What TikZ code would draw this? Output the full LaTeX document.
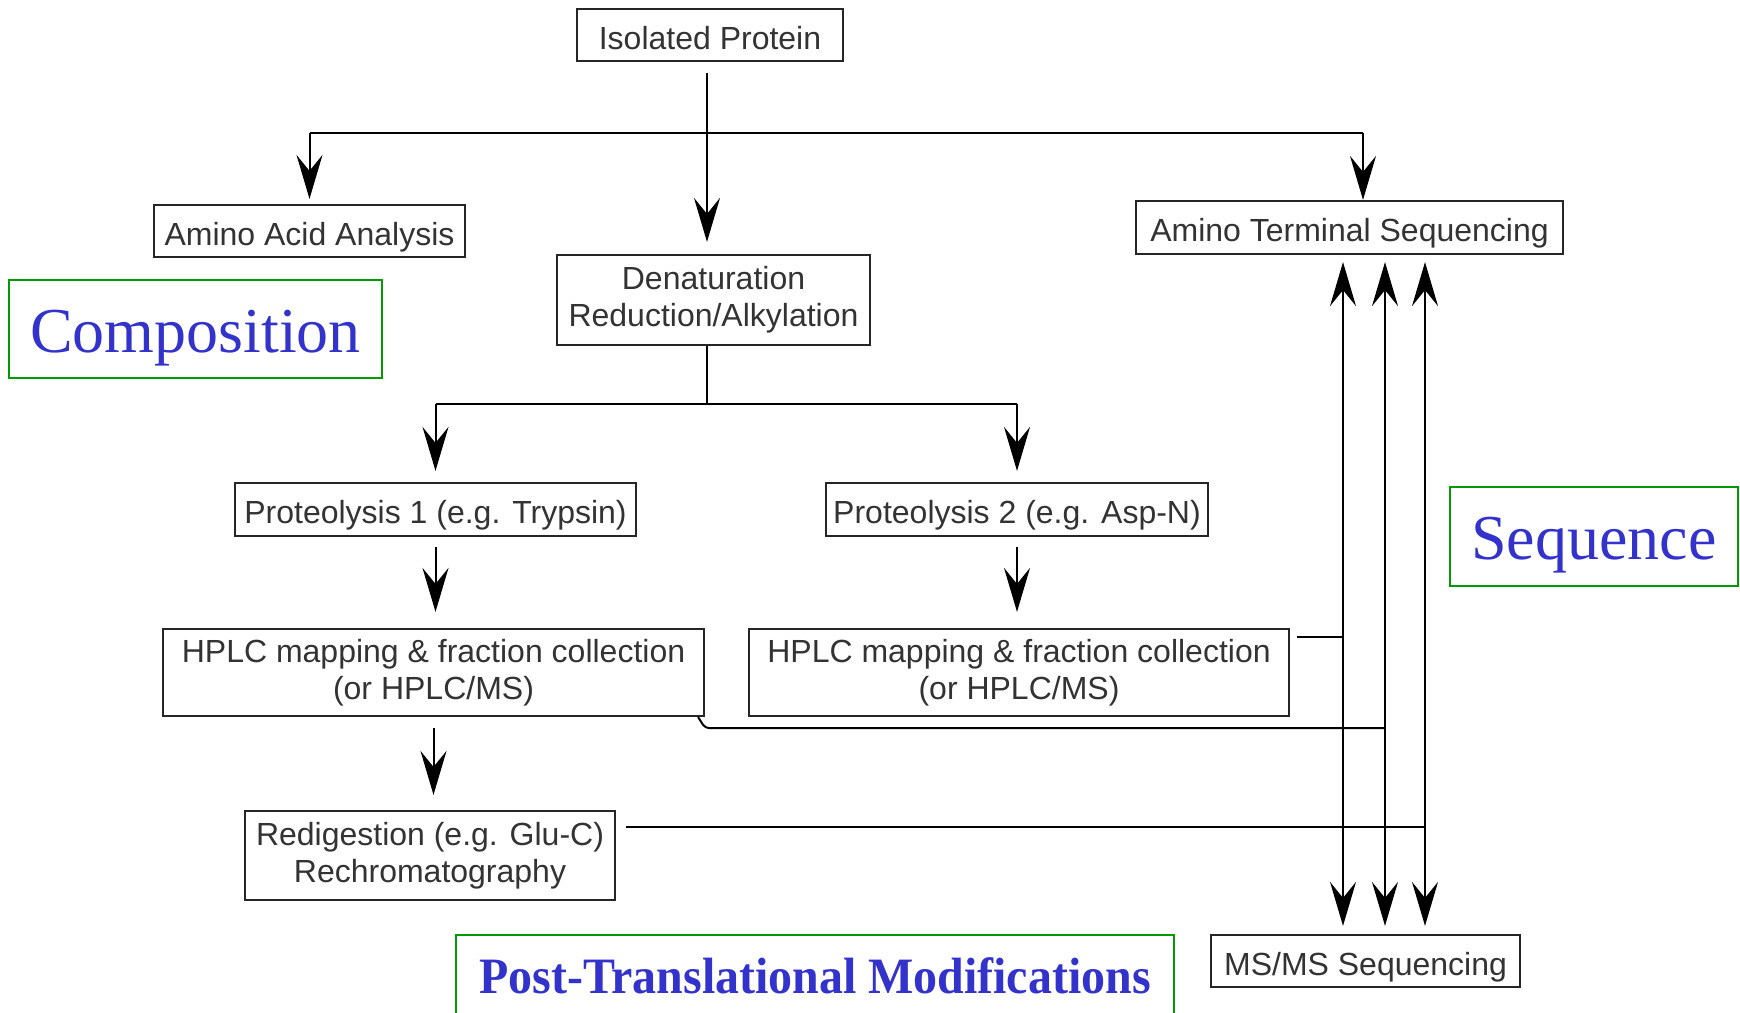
\documentclass[tikz,border=0pt]{standalone}
\usepackage{fontspec}
\setmainfont{Liberation Serif}
\setsansfont{Liberation Sans}
\usetikzlibrary{arrows.meta}
\definecolor{labelgreen}{RGB}{0,155,0}
\definecolor{labelblue}{RGB}{51,51,204}

\begin{document}
\begin{tikzpicture}[x=0.5pt,y=-0.5pt,
  box/.style={draw=black!85,line width=1.1pt,inner sep=0pt,text=black!80,
    font=\sffamily\fontsize{16}{18.5}\selectfont,align=center},
  onebox/.style={box,text height=14pt,text depth=0pt},
  topic/.style={draw=labelgreen,line width=1.3pt,inner sep=0pt,text=labelblue,
    font=\rmfamily\fontsize{32}{36}\selectfont,text height=24pt,text depth=1pt},
  arr/.style={line width=1pt,-{Stealth[length=22pt,width=13pt,inset=8pt]}},
  twoarr/.style={line width=1pt,{Stealth[length=22pt,width=13pt,inset=8pt]}-{Stealth[length=22pt,width=13pt,inset=8pt]}},
  link/.style={line width=1pt}]
  \useasboundingbox (0,0) rectangle (1740,1012);
  \clip (0,0) rectangle (1740,1012);
  \fill[white] (0,0) rectangle (1740,1012);

  % boxes
  \node[onebox,minimum width=133pt,minimum height=26pt] (iso) at (710,35) {Isolated Protein};
  \node[onebox,minimum width=155.5pt,minimum height=26pt] (aaa) at (309.5,231) {Amino Acid Analysis};
  \node[onebox,minimum width=213.5pt,minimum height=26.5pt] (ats) at (1349.5,227.5) {Amino Terminal Sequencing};
  \node[box,minimum width=156.5pt,minimum height=45pt] (denat) at (713.5,300) {Denaturation\\Reduction/Alkylation};
  \node[onebox,minimum width=200.5pt,minimum height=26.5pt] (prot1) at (435.5,509.5) {Proteolysis 1 (e.g. Trypsin)};
  \node[onebox,minimum width=191pt,minimum height=26.5pt] (prot2) at (1017,509.5) {Proteolysis 2 (e.g. Asp-N)};
  \node[box,minimum width=270.5pt,minimum height=43.5pt] (hplc1) at (433.5,672.5) {HPLC mapping \& fraction collection\\(or HPLC/MS)};
  \node[box,minimum width=270pt,minimum height=43.5pt] (hplc2) at (1019,672.5) {HPLC mapping \& fraction collection\\(or HPLC/MS)};
  \node[box,minimum width=185pt,minimum height=44.5pt] (redig) at (430,855.5) {Redigestion (e.g. Glu-C)\\Rechromatography};
  \node[onebox,minimum width=154.5pt,minimum height=26pt] (msms) at (1365.5,961) {MS/MS Sequencing};

  % green labels
  \node[topic,minimum width=186.5pt,minimum height=49pt] (composition) at (195.5,329) {Composition};
  \node[topic,minimum width=144pt,minimum height=49.5pt] (sequence) at (1594,536.5) {Sequence};
  \node[topic,minimum width=359pt,minimum height=50pt,
    font=\rmfamily\bfseries\fontsize{25.5}{28}\selectfont,text height=18pt,text depth=10pt]
    (ptm) at (815,985) {\scalebox{0.94}[1]{Post-Translational Modifications}};

  % junctions
  \coordinate (trunk) at (707,133);
  \coordinate (atsin) at (1363,133);
  \coordinate (fork) at (707,404);
  \coordinate (colA) at (1343,0);
  \coordinate (colB) at (1385,0);
  \coordinate (colC) at (1425,0);

  \draw[arr,shorten <=5.5pt,shorten >=6pt] (iso.south -| trunk) -- (denat.north -| trunk);
  \draw[link] (aaa.north |- trunk) -- (atsin);
  \draw[arr,shorten >=2.5pt] (aaa.north |- trunk) -- (aaa.north);
  \draw[arr] (atsin) -- (atsin |- ats.north);

  \draw[link] (denat.south -| fork) -- (fork);
  \draw[link] (prot1.north |- fork) -- (prot2.north |- fork);
  \draw[arr,shorten >=5.5pt] (prot1.north |- fork) -- (prot1.north);
  \draw[arr,shorten >=5.5pt] (prot2.north |- fork) -- (prot2.north);

  \draw[arr,shorten <=5pt,shorten >=8pt] (prot1.south) -- (prot1.south |- hplc1.north);
  \draw[arr,shorten <=5pt,shorten >=8pt] (prot2.south) -- (prot2.south |- hplc2.north);
  \draw[arr,shorten <=5.5pt,shorten >=7.5pt] (hplc1.south) -- (hplc1.south |- redig.north);

  % sequencing columns
  \draw[twoarr,shorten <=3.5pt,shorten >=4pt] (colA |- ats.south) -- (colA |- msms.north);
  \draw[twoarr,shorten <=3.5pt,shorten >=4pt] (colB |- ats.south) -- (colB |- msms.north);
  \draw[twoarr,shorten <=3.5pt,shorten >=4pt] (colC |- ats.south) -- (colC |- msms.north);

  \coordinate (outA) at ([xshift=3.5pt,yshift=-4.5pt]hplc2.north east);
  \draw[link] (outA) -- (outA -| colA);
  \coordinate (outB) at ([yshift=-5.5pt]hplc1.south east);
  \draw[link,rounded corners=2pt] ([xshift=-3.5pt]hplc1.south east) -- (outB) -- (outB -| colB);
  \coordinate (outC) at ([xshift=5pt,yshift=-8.5pt]redig.north east);
  \draw[link] (outC) -- (outC -| colC);
\end{tikzpicture}
\end{document}
